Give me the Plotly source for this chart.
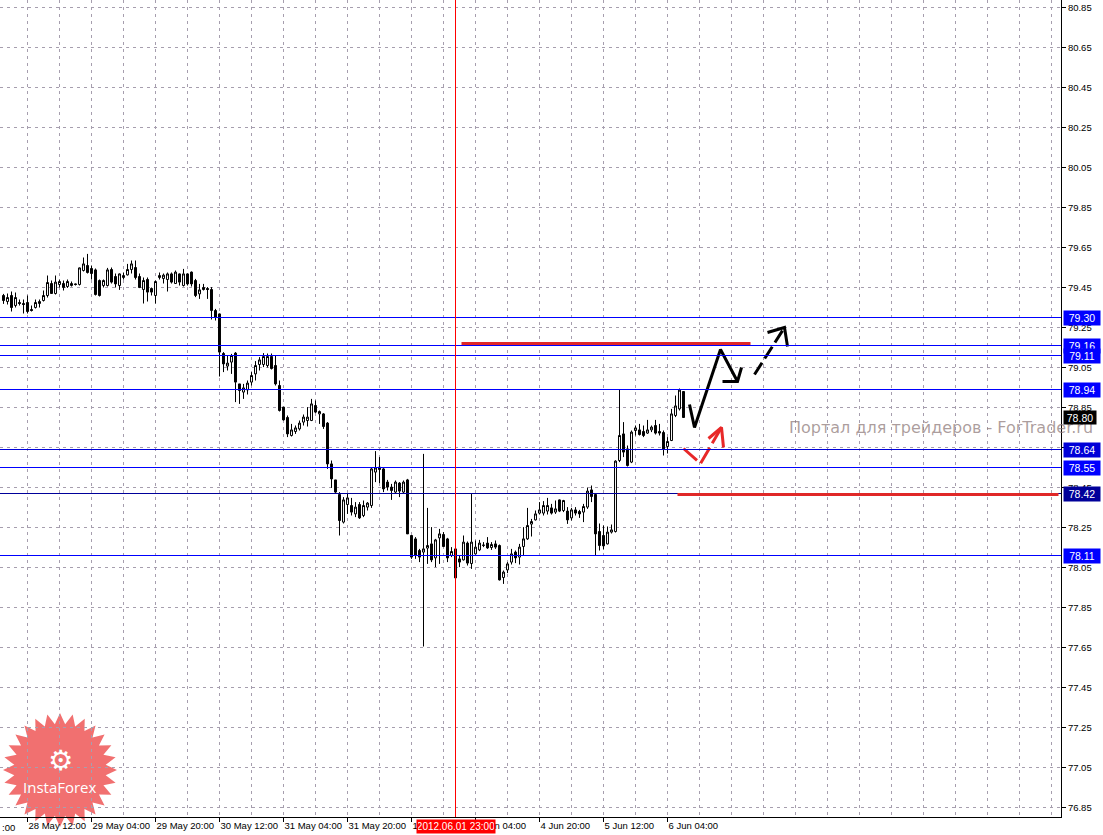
import plotly.graph_objects as go
import numpy as np

# ---------------- data ----------------
bar_index = list(range(-6, 165))  # H1 bars, 0 = 28 May 12:00

opens = [79.41, 79.38, 79.41, 79.36, 79.375, 79.37, 79.375, 79.34, 79.35, 79.37,
         79.385, 79.41, 79.47, 79.42, 79.465, 79.47, 79.455, 79.46, 79.468, 79.465,
         79.535, 79.56, 79.545, 79.538, 79.485, 79.46, 79.46, 79.54, 79.505, 79.46,
         79.50, 79.513, 79.54, 79.55, 79.505, 79.44, 79.49, 79.445, 79.41, 79.50,
         79.495, 79.49, 79.518, 79.47, 79.518, 79.46, 79.518, 79.527, 79.485, 79.418,
         79.45, 79.445, 79.44, 79.335, 79.318, 79.12, 79.057, 79.077, 79.122, 78.968,
         78.927, 78.938, 78.977, 79.018, 79.065, 79.065, 79.06, 79.105, 79.06, 78.96,
         78.852, 78.80, 78.71, 78.73, 78.743, 78.777, 78.785, 78.785, 78.86, 78.818,
         78.818, 78.772, 78.568, 78.488, 78.415, 78.277, 78.365, 78.36, 78.318, 78.365,
         78.31, 78.352, 78.36, 78.527, 78.552, 78.543, 78.477, 78.452, 78.427, 78.472,
         78.427, 78.488, 78.21, 78.193, 78.135, 78.127, 78.147, 78.168, 78.098, 78.198,
         78.215, 78.193, 78.11, 78.143, 78.093, 78.088, 78.172, 78.07, 78.118, 78.138,
         78.16, 78.172, 78.15, 78.168, 78.16, 78.00, 78.038, 78.077, 78.127, 78.102,
         78.155, 78.193, 78.267, 78.288, 78.322, 78.322, 78.332, 78.348, 78.327, 78.388,
         78.335, 78.332, 78.298, 78.338, 78.33, 78.327, 78.352, 78.438, 78.415, 78.23,
         78.21, 78.168, 78.227, 78.23, 78.585, 78.718, 78.643, 78.577, 78.735, 78.738,
         78.73, 78.722, 78.738, 78.76, 78.73, 78.725, 78.655, 78.685, 78.81, 78.843,
         78.93]
highs = [79.418, 79.42, 79.43, 79.425, 79.39, 79.39, 79.41, 79.36, 79.39, 79.39,
         79.435, 79.51, 79.485, 79.51, 79.49, 79.485, 79.49, 79.48, 79.47, 79.55,
         79.60, 79.618, 79.56, 79.545, 79.49, 79.49, 79.548, 79.55, 79.52, 79.52,
         79.525, 79.568, 79.585, 79.585, 79.52, 79.50, 79.50, 79.45, 79.485, 79.525,
         79.52, 79.525, 79.525, 79.535, 79.52, 79.543, 79.52, 79.53, 79.493, 79.468,
         79.468, 79.452, 79.452, 79.343, 79.32, 79.127, 79.11, 79.118, 79.127, 78.968,
         78.968, 78.985, 79.027, 79.082, 79.102, 79.122, 79.12, 79.12, 79.11, 78.985,
         78.852, 78.81, 78.768, 78.76, 78.785, 78.815, 78.852, 78.893, 78.885, 78.835,
         78.822, 78.777, 78.585, 78.488, 78.427, 78.402, 78.418, 78.398, 78.377, 78.377,
         78.385, 78.377, 78.552, 78.632, 78.602, 78.552, 78.488, 78.468, 78.485, 78.477,
         78.485, 78.493, 78.21, 78.202, 78.143, 78.618, 78.348, 78.252, 78.193, 78.243,
         78.227, 78.198, 78.152, 78.152, 78.11, 78.21, 78.18, 78.418, 78.185, 78.188,
         78.177, 78.202, 78.177, 78.185, 78.165, 78.035, 78.077, 78.143, 78.135, 78.168,
         78.252, 78.348, 78.293, 78.335, 78.377, 78.382, 78.398, 78.368, 78.385, 78.39,
         78.388, 78.352, 78.348, 78.352, 78.338, 78.368, 78.45, 78.46, 78.418, 78.27,
         78.26, 78.255, 78.265, 78.586, 78.938, 78.777, 78.66, 78.735, 78.76, 78.768,
         78.76, 78.788, 78.76, 78.788, 78.768, 78.735, 78.702, 78.843, 78.91, 78.945,
         78.932]
lows = [79.368, 79.365, 79.33, 79.35, 79.36, 79.32, 79.32, 79.33, 79.345, 79.35,
        79.38, 79.40, 79.42, 79.415, 79.45, 79.435, 79.448, 79.455, 79.46, 79.46,
        79.53, 79.52, 79.49, 79.41, 79.405, 79.45, 79.455, 79.47, 79.45, 79.438,
        79.49, 79.51, 79.52, 79.49, 79.447, 79.37, 79.38, 79.41, 79.37, 79.49,
        79.47, 79.43, 79.47, 79.468, 79.46, 79.455, 79.46, 79.455, 79.402, 79.393,
        79.435, 79.393, 79.29, 79.285, 79.005, 79.027, 79.035, 79.018, 78.877, 78.868,
        78.893, 78.915, 78.96, 78.985, 79.035, 79.052, 79.05, 79.04, 78.96, 78.83,
        78.785, 78.702, 78.705, 78.718, 78.735, 78.76, 78.755, 78.782, 78.822, 78.768,
        78.743, 78.543, 78.448, 78.422, 78.21, 78.27, 78.318, 78.31, 78.302, 78.293,
        78.302, 78.335, 78.348, 78.477, 78.472, 78.427, 78.435, 78.388, 78.422, 78.402,
        78.422, 78.218, 78.093, 78.093, 78.077, 77.655, 78.068, 78.077, 78.052, 78.068,
        78.152, 78.077, 78.102, 77.99, 78.052, 78.085, 78.06, 78.043, 78.115, 78.132,
        78.152, 78.143, 78.138, 78.143, 77.985, 77.968, 78.022, 78.065, 78.072, 78.065,
        78.11, 78.188, 78.205, 78.285, 78.315, 78.31, 78.315, 78.315, 78.318, 78.327,
        78.327, 78.268, 78.285, 78.31, 78.298, 78.277, 78.343, 78.377, 78.11, 78.135,
        78.14, 78.165, 78.22, 78.225, 78.577, 78.602, 78.555, 78.572, 78.71, 78.71,
        78.702, 78.718, 78.727, 78.715, 78.71, 78.61, 78.62, 78.682, 78.802, 78.835,
        78.798]
closes = [79.385, 79.40, 79.35, 79.40, 79.37, 79.365, 79.33, 79.335, 79.375, 79.38,
          79.41, 79.475, 79.42, 79.477, 79.48, 79.45, 79.48, 79.47, 79.465, 79.548,
          79.568, 79.525, 79.52, 79.415, 79.41, 79.485, 79.538, 79.477, 79.468, 79.518,
          79.51, 79.54, 79.568, 79.50, 79.45, 79.485, 79.427, 79.427, 79.48, 79.51,
          79.512, 79.518, 79.477, 79.527, 79.477, 79.518, 79.468, 79.468, 79.41, 79.438,
          79.44, 79.44, 79.335, 79.30, 79.127, 79.068, 79.072, 79.11, 78.977, 78.935,
          78.948, 78.972, 79.01, 79.06, 79.088, 79.105, 79.105, 79.045, 78.968, 78.835,
          78.788, 78.718, 78.738, 78.748, 78.772, 78.802, 78.802, 78.868, 78.827, 78.83,
          78.755, 78.568, 78.493, 78.427, 78.285, 78.388, 78.398, 78.327, 78.352, 78.298,
          78.36, 78.372, 78.543, 78.548, 78.54, 78.443, 78.452, 78.435, 78.477, 78.432,
          78.477, 78.218, 78.102, 78.11, 78.102, 78.143, 78.16, 78.088, 78.188, 78.218,
          78.155, 78.098, 78.13, 77.998, 78.077, 78.177, 78.072, 78.177, 78.152, 78.172,
          78.162, 78.148, 78.165, 78.152, 77.988, 78.027, 78.068, 78.118, 78.098, 78.152,
          78.193, 78.26, 78.28, 78.318, 78.338, 78.36, 78.36, 78.322, 78.343, 78.332,
          78.385, 78.288, 78.338, 78.322, 78.318, 78.355, 78.432, 78.405, 78.218, 78.16,
          78.158, 78.227, 78.238, 78.582, 78.71, 78.627, 78.56, 78.727, 78.748, 78.715,
          78.71, 78.738, 78.752, 78.722, 78.722, 78.643, 78.68, 78.818, 78.858, 78.937,
          78.80]

time_tick_bars = [0, 16, 32, 48, 64, 80, 96, 112, 128, 144, 160]
time_tick_labels = ["28 May 12:00", "29 May 04:00", "29 May 20:00", "30 May 12:00",
                    "31 May 04:00", "31 May 20:00", "1 Jun 12:00", "4 Jun 04:00",
                    "4 Jun 20:00", "5 Jun 12:00", "6 Jun 04:00"]

level_prices = [79.30, 79.16, 79.11, 78.94, 78.64, 78.55, 78.42, 78.11]
level_labels = ["79.30", "79.16", "79.11", "78.94", "78.64", "78.55", "78.42", "78.11"]
level_colors = ["#0000ff", "#0000ff", "#0000ff", "#0000ff", "#0000d8", "#0000ff", "#00009a", "#0000ff"]
current_price = 78.80
current_label = "78.80"

marker_bar = 107
marker_label = "2012.06.01 23:00"

red_seg_x0 = [108.5, 162.5]
red_seg_x1 = [180.75, 257.75]
red_seg_y = [79.17, 78.415]

black_path_x = [165.5, 166.75, 173.25, 177.5]
black_path_y = [78.865, 78.75, 79.14, 78.98]
black_head_x = [173.75, 177.5, 178.5]
black_head_y = [78.98, 78.98, 79.05]

black_dash_x = [181.75, 189.25]
black_dash_y = [79.015, 79.25]
black_dash_head_x = [185.0, 189.25, 190.0]
black_dash_head_y = [79.225, 79.25, 79.155]

red_dash_x = [164.0, 168.25, 173.5]
red_dash_y = [78.645, 78.57, 78.75]
red_dash_head_x = [170.25, 173.5, 174.0]
red_dash_head_y = [78.695, 78.75, 78.65]

watermark = "Портал для трейдеров - ForTrader.ru"

# ---------------- figure ----------------
W, H = 1103, 835
ML, MR, MT, MB = 0, 42, 0, 18
PW, PH = W - ML - MR, H - MT - MB

FONT = "Liberation Sans"
GRID = "#a69eae"

# axis ranges (4 px per bar, 200 px per price unit, half-pixel aligned)
X_RANGE = [-6.875, -6.875 + PW / 4]
Y_TOP = 80.8875
Y_RANGE = [Y_TOP - PH / 200, Y_TOP]

fig = go.Figure()

fig.add_trace(go.Candlestick(
    x=bar_index, open=opens, high=highs, low=lows, close=closes,
    increasing=dict(line=dict(color="black", width=1), fillcolor="white"),
    decreasing=dict(line=dict(color="black", width=1), fillcolor="black"),
    whiskerwidth=0, hoverinfo="skip", showlegend=False,
))

def add_line(xs, ys, color, dash="solid", width=3):
    fig.add_trace(go.Scatter(x=xs, y=ys, mode="lines",
                             line=dict(color=color, width=width, dash=dash),
                             hoverinfo="skip", showlegend=False))

add_line(black_path_x, black_path_y, "black")
add_line(black_head_x, black_head_y, "black")
add_line(black_dash_x, black_dash_y, "black", dash="14px,5px")
add_line(black_dash_head_x, black_dash_head_y, "black")
add_line(red_dash_x, red_dash_y, "#e82828", dash="18px,5px")
add_line(red_dash_head_x, red_dash_head_y, "#e82828")

shapes = []
for p, c in zip(level_prices, level_colors):
    shapes.append(dict(type="line", xref="paper", x0=0, x1=1, yref="y", y0=p, y1=p,
                       line=dict(color=c, width=1), layer="above"))
for x0, x1, y in zip(red_seg_x0, red_seg_x1, red_seg_y):
    shapes.append(dict(type="line", xref="x", x0=x0, x1=x1, yref="y", y0=y, y1=y,
                       line=dict(color="#e02828", width=3), layer="above"))
shapes.append(dict(type="line", xref="x", x0=marker_bar, x1=marker_bar, yref="paper",
                   y0=0, y1=1, line=dict(color="red", width=1), layer="above"))

# InstaForex starburst logo (decoration, pixel geometry)
cx, cy, r_out, r_in, n = 60, 770, 57, 46, 28
pts = []
for i in range(2 * n):
    r = r_out if i % 2 == 0 else r_in
    a = np.pi * i / n - np.pi / 2
    pts.append(((cx + r * np.cos(a)) / PW, 1 - (cy + r * np.sin(a)) / PH))
path = "M " + " L ".join(f"{x:.5f},{y:.5f}" for x, y in pts) + " Z"
shapes.append(dict(type="path", xref="paper", yref="paper", path=path,
                   fillcolor="rgba(238,80,80,0.82)", line=dict(width=0), layer="below"))

annotations = []
annotations.append(dict(text=watermark, xref="paper", yref="paper",
                        x=787 / PW, y=1 - 428 / PH, xanchor="left", yanchor="middle",
                        showarrow=False, font=dict(family="DejaVu Sans", size=16,
                                                   color="rgba(140,120,120,0.72)")))
for p, lab, c in zip(level_prices, level_labels, level_colors):
    annotations.append(dict(text=lab, xref="paper", yref="y", x=1063 / PW, y=p,
                            xanchor="left", yanchor="middle", showarrow=False,
                            bgcolor=c, width=34, height=12, borderpad=1,
                            font=dict(family=FONT, size=10.5, color="white")))
annotations.append(dict(text=current_label, xref="paper", yref="y", x=1063 / PW, y=current_price,
                        xanchor="left", yanchor="middle", showarrow=False,
                        bgcolor="black", width=30, height=11, borderpad=1,
                        font=dict(family=FONT, size=10.5, color="white")))
annotations.append(dict(text=marker_label, xref="x", yref="paper", x=marker_bar, y=-2 / PH,
                        xanchor="center", yanchor="top", showarrow=False,
                        bgcolor="red", width=76, height=11, borderpad=1,
                        font=dict(family=FONT, size=10, color="white")))
annotations.append(dict(text=":00", xref="paper", yref="paper", x=0, y=-3 / PH,
                        xanchor="left", yanchor="top", showarrow=False,
                        font=dict(family=FONT, size=9.5, color="black")))
annotations.append(dict(text="⚙", xref="paper", yref="paper", x=cx / PW, y=1 - 760 / PH,
                        xanchor="center", yanchor="middle", showarrow=False,
                        font=dict(family="DejaVu Sans", size=28, color="white")))
annotations.append(dict(text="InstaForex", xref="paper", yref="paper", x=cx / PW, y=1 - 787 / PH,
                        xanchor="center", yanchor="middle", showarrow=False,
                        font=dict(family="Open Sans", size=15, color="white")))

fig.update_layout(
    width=W, height=H,
    margin=dict(l=ML, r=MR, t=MT, b=MB, pad=0, autoexpand=False),
    paper_bgcolor="white", plot_bgcolor="white",
    showlegend=False,
    shapes=shapes, annotations=annotations,
    font=dict(family=FONT, size=9.5, color="black"),
    xaxis=dict(
        type="linear", range=X_RANGE, rangeslider=dict(visible=False),
        tickmode="array", tickvals=time_tick_bars, ticktext=time_tick_labels,
        tickangle=0, automargin=False,
        ticks="outside", ticklen=4, tickcolor="black",
        ticklabelposition="outside right",
        showline=True, linecolor="black", linewidth=1, mirror=False, zeroline=False,
        showgrid=True, gridcolor=GRID, griddash="3px,4px", gridwidth=1,
        minor=dict(tickmode="linear", tick0=0, dtick=8, showgrid=True,
                   gridcolor=GRID, griddash="3px,4px", gridwidth=1, ticks=""),
        tickfont=dict(family=FONT, size=9.5, color="black"),
        fixedrange=True,
    ),
    yaxis=dict(
        side="right", range=Y_RANGE, automargin=False,
        tickmode="linear", tick0=76.85, dtick=0.2, tickformat=".2f",
        ticks="outside", ticklen=4, tickcolor="black",
        showline=True, linecolor="black", linewidth=1, mirror=False, zeroline=False,
        showgrid=True, gridcolor=GRID, griddash="3px,4px", gridwidth=1,
        tickfont=dict(family=FONT, size=9.5, color="black"),
        fixedrange=True,
    ),
)

fig.write_html("out.html", config={"displayModeBar": False},
               post_script="document.body.style.margin='0';document.body.style.overflow='hidden';")
